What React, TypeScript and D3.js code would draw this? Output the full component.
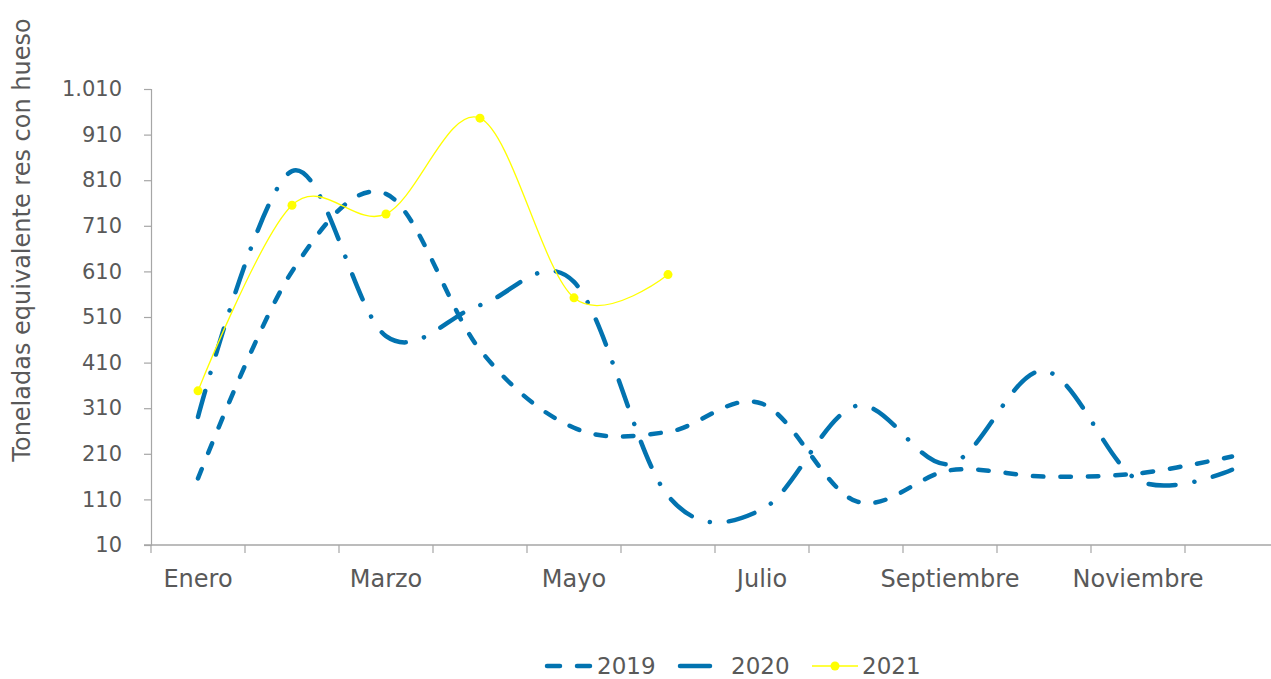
import * as d3 from 'd3';
import React, { useEffect, useRef } from 'react';

const months = [
  'Enero', 'Febrero', 'Marzo', 'Abril', 'Mayo', 'Junio',
  'Julio', 'Agosto', 'Septiembre', 'Octubre', 'Noviembre', 'Diciembre',
];

const yTicks = [10, 110, 210, 310, 410, 510, 610, 710, 810, 910, 1010];

const values2019 = [156, 610, 780, 438, 267, 258, 320, 106, 174, 160, 167, 204];
const values2020 = [291, 830, 468, 536, 587, 118, 88, 315, 188, 392, 152, 175];
const values2021 = [348, 755, 736, 946, 552, 603];

const BLUE = '#0273B0';
const YELLOW = '#FFFF00';
const AXIS = '#A6A6A6';
const TEXT = '#595959';
const FONT = '"DejaVu Sans", sans-serif';

const W = 1271;
const H = 679;

const App: React.FC = () => {
  const svgRef = useRef<SVGSVGElement>(null);

  useEffect(() => {
    if (!svgRef.current) return;
    const svg = d3.select(svgRef.current);
    svg.selectAll('*').remove();

    const left = 151;
    const top = 89;
    const bottom = 545;

    const x = d3.scaleBand<string>().domain(months).range([left, 1279]).padding(0);
    const cx = (m: string) => (x(m) || 0) + x.bandwidth() / 2;
    const y = d3.scaleLinear().domain([10, 1010]).range([bottom, top]);

    const es = d3.formatLocale({ decimal: ',', thousands: '.', grouping: [3], currency: ['', ''] });
    const fmt = es.format(',');

    // y axis
    const yAxis = svg.append('g')
      .attr('transform', `translate(${left},0)`)
      .call(d3.axisLeft(y).tickValues(yTicks).tickSize(7).tickPadding(22).tickFormat(d => fmt(Number(d))));
    yAxis.select('.domain').attr('stroke', AXIS).attr('stroke-width', 1.2);
    yAxis.selectAll('.tick line').attr('stroke', AXIS).attr('stroke-width', 1.2);
    yAxis.selectAll('.tick text')
      .attr('fill', TEXT)
      .style('font-family', FONT)
      .style('font-size', '21px');

    // x axis
    const xg = svg.append('g');
    xg.append('line')
      .attr('x1', left - 7).attr('x2', W)
      .attr('y1', bottom).attr('y2', bottom)
      .attr('stroke', AXIS).attr('stroke-width', 1.5);
    xg.selectAll('line.tk')
      .data(months)
      .join('line')
      .attr('class', 'tk')
      .attr('x1', d => x(d) || 0).attr('x2', d => x(d) || 0)
      .attr('y1', bottom).attr('y2', bottom + 8)
      .attr('stroke', AXIS).attr('stroke-width', 1.2);
    xg.selectAll('text')
      .data(months.filter((_, i) => i % 2 === 0))
      .join('text')
      .attr('x', d => cx(d))
      .attr('y', 587)
      .attr('text-anchor', 'middle')
      .attr('fill', TEXT)
      .style('font-family', FONT)
      .style('font-size', '24px')
      .text(d => d);

    // axis title
    svg.append('text')
      .attr('transform', 'translate(30,240) rotate(-90)')
      .attr('text-anchor', 'middle')
      .attr('fill', TEXT)
      .style('font-family', FONT)
      .style('font-size', '24px')
      .text('Toneladas equivalente res con hueso');

    const line = d3.line<number>()
      .x((_, i) => cx(months[i]))
      .y(d => y(d))
      .curve(d3.curveCatmullRom.alpha(0));

    svg.append('path')
      .datum(values2019)
      .attr('d', line)
      .attr('fill', 'none')
      .attr('stroke', BLUE)
      .attr('stroke-width', 4.5)
      .attr('stroke-linecap', 'round')
      .attr('stroke-dasharray', '10.5 17');

    svg.append('path')
      .datum(values2020)
      .attr('d', line)
      .attr('fill', 'none')
      .attr('stroke', BLUE)
      .attr('stroke-width', 4.5)
      .attr('stroke-linecap', 'round')
      .attr('stroke-dasharray', '27 19 0.1 19');

    svg.append('path')
      .datum(values2021)
      .attr('d', line)
      .attr('fill', 'none')
      .attr('stroke', YELLOW)
      .attr('stroke-width', 1.3);

    svg.selectAll('circle.p21')
      .data(values2021)
      .join('circle')
      .attr('class', 'p21')
      .attr('cx', (_, i) => cx(months[i]))
      .attr('cy', d => y(d))
      .attr('r', 4.5)
      .attr('fill', YELLOW);

    // legend
    const ly = 666;
    const lg = svg.append('g');
    lg.append('line')
      .attr('x1', 547).attr('x2', 590).attr('y1', ly).attr('y2', ly)
      .attr('stroke', BLUE).attr('stroke-width', 4.5).attr('stroke-linecap', 'round')
      .attr('stroke-dasharray', '13 17');
    lg.append('line')
      .attr('x1', 680).attr('x2', 710).attr('y1', ly).attr('y2', ly)
      .attr('stroke', BLUE).attr('stroke-width', 4.5).attr('stroke-linecap', 'round');
    lg.append('line')
      .attr('x1', 812).attr('x2', 858).attr('y1', ly).attr('y2', ly)
      .attr('stroke', YELLOW).attr('stroke-width', 1.3);
    lg.append('circle').attr('cx', 835).attr('cy', ly).attr('r', 4.5).attr('fill', YELLOW);

    const legendText = [
      { label: '2019', x: 597 },
      { label: '2020', x: 731 },
      { label: '2021', x: 862 },
    ];
    lg.selectAll('text')
      .data(legendText)
      .join('text')
      .attr('x', d => d.x)
      .attr('y', ly + 8)
      .attr('fill', TEXT)
      .style('font-family', FONT)
      .style('font-size', '23px')
      .text(d => d.label);
  }, []);

  return (
    <svg
      ref={svgRef}
      width={W}
      height={H}
      style={{ position: 'absolute', left: 0, top: 0, background: '#fff' }}
    />
  );
};

export default App;
